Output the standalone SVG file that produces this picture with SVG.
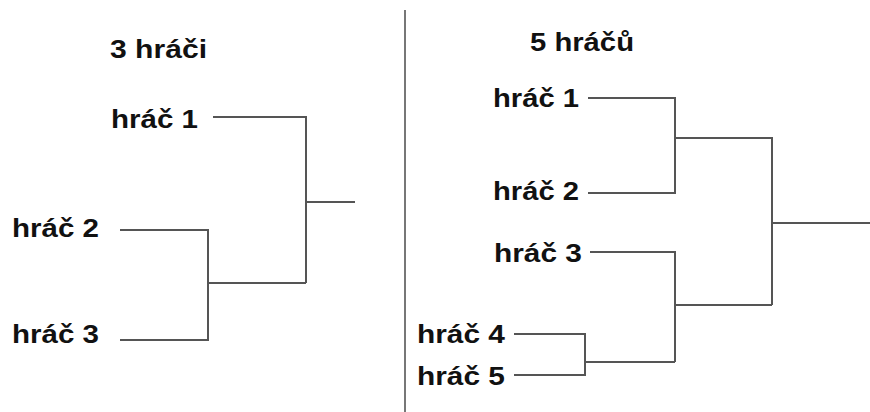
<svg xmlns="http://www.w3.org/2000/svg" width="870" height="412" viewBox="0 0 870 412">
<style>
text{font-family:"Liberation Sans",Arial,sans-serif;font-weight:bold;font-size:25px;fill:#111}
.c{stroke:#555;stroke-width:2;fill:none}
.d{stroke:#777;stroke-width:2;fill:none}
</style>
<rect width="870" height="412" fill="#fff"/>
<line class="d" x1="405" y1="10" x2="405" y2="412"/>
<g id="title-left"><text x="110" y="58" textLength="97" lengthAdjust="spacingAndGlyphs">3 hráči</text></g>
<g id="title-right"><text x="530" y="51" textLength="104" lengthAdjust="spacingAndGlyphs">5 hráčů</text></g>
<g id="L1"><text x="111" y="128" textLength="87" lengthAdjust="spacingAndGlyphs">hráč 1</text></g>
<g id="L2"><text x="12" y="237" textLength="87" lengthAdjust="spacingAndGlyphs">hráč 2</text></g>
<g id="L3"><text x="12" y="343" textLength="87" lengthAdjust="spacingAndGlyphs">hráč 3</text></g>
<g id="R1"><text x="493" y="107" textLength="86" lengthAdjust="spacingAndGlyphs">hráč 1</text></g>
<g id="R2"><text x="493" y="200" textLength="86" lengthAdjust="spacingAndGlyphs">hráč 2</text></g>
<g id="R3"><text x="494" y="262" textLength="88" lengthAdjust="spacingAndGlyphs">hráč 3</text></g>
<g id="R4"><text x="417" y="343" textLength="88" lengthAdjust="spacingAndGlyphs">hráč 4</text></g>
<g id="R5"><text x="417" y="385" textLength="88" lengthAdjust="spacingAndGlyphs">hráč 5</text></g>
<g id="connectors">
<path class="c" d="M213 117H306V283M306 202H355M120 230H208V340H120M208 283H306"/>
<path class="c" d="M588 98H675V193H588M675 138H772V305M772 223H870M590 252H675V362M675 305H772M514 334H585V375H514M585 362H675"/>
</g>
</svg>
